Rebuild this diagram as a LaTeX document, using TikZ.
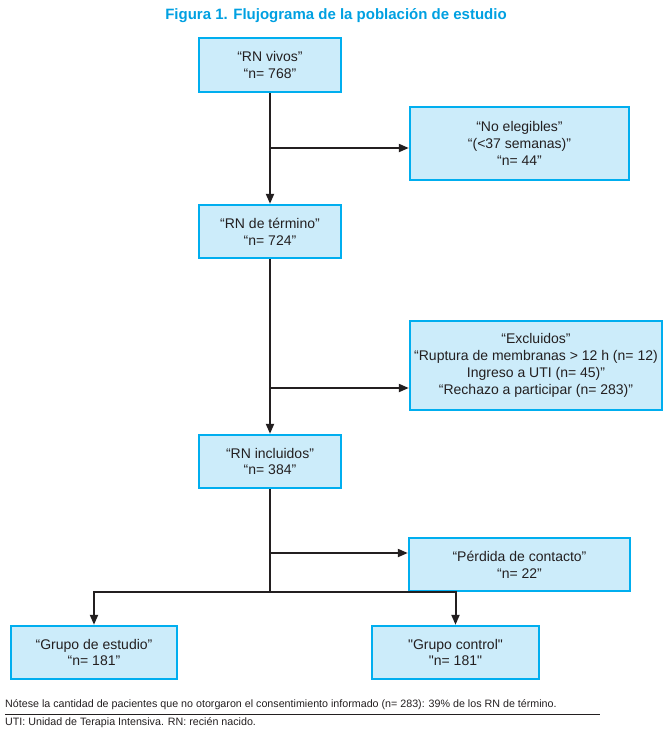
\documentclass[tikz,border=0pt]{standalone}
\usepackage{fontspec}
\setmainfont{Liberation Sans}[Ligatures=TeXOff]
\usetikzlibrary{arrows.meta}
\definecolor{boxborder}{RGB}{0,174,239}
\definecolor{boxfill}{RGB}{204,236,250}
\definecolor{ink}{RGB}{35,31,32}
\definecolor{titleblue}{RGB}{0,160,225}
\tikzset{
  box/.style={draw=boxborder, fill=boxfill, line width=2.4pt, inner sep=0pt, align=center,
    font=\fontsize{14}{16.8}\selectfont, text=ink},
  arr/.style={draw=ink, line width=2pt, -{Triangle[length=10pt,width=8pt]}},
  ln/.style={draw=ink, line width=2pt},
}
\begin{document}
\begin{tikzpicture}[x=1pt,y=-1pt]
\useasboundingbox (0,0) rectangle (670,740);
\node[font=\bfseries\fontsize{15}{17}\selectfont, text=titleblue] (title) at (336,16) {Figura 1. Flujograma de la población de estudio};
\node[box, minimum width=142pt, minimum height=54pt] (vivos) at (270,65) {“RN vivos”\\“n= 768”};
\node[box, minimum width=219pt, minimum height=73pt] (noeleg) at (519.5,143.5) {“No elegibles”\\“(<37 semanas)”\\“n= 44”};
\node[box, minimum width=142pt, minimum height=53pt] (termino) at (270,231.5) {“RN de término”\\“n= 724”};
\node[box, minimum width=252pt, minimum height=89pt] (excl) at (536,365.5) {“Excluidos”\\“Ruptura de membranas > 12 h (n= 12)\\Ingreso a UTI (n= 45)”\\“Rechazo a participar (n= 283)”};
\node[box, minimum width=142pt, minimum height=53pt] (incl) at (270,461.5) {“RN incluidos”\\“n= 384”};
\node[box, minimum width=221pt, minimum height=53pt] (perdida) at (519.5,564.5) {“Pérdida de contacto”\\“n= 22”};
\node[box, minimum width=166pt, minimum height=53pt] (estudio) at (94,652.5) {“Grupo de estudio”\\“n= 181”};
\node[box, minimum width=167pt, minimum height=53pt] (control) at (455.5,652.5) {"Grupo control"\\"n= 181"};
\coordinate (j1) at (270,148);
\coordinate (j2) at (270,388);
\coordinate (j3) at (270,553);
\coordinate (j4) at (270,592);
\draw[arr] (vivos) -- (termino);
\draw[arr] (j1) -- (j1 -| noeleg.west);
\draw[arr] (termino) -- (incl);
\draw[arr] (j2) -- (j2 -| excl.west);
\draw[ln] (incl.south) -- (j4);
\draw[arr] (j3) -- (j3 -| perdida.west);
\draw[arr] (j4) -| (estudio.north);
\draw[arr] (j4) -| (control.north);
\node[anchor=west, font=\fontsize{10.7}{12}\selectfont, text=ink, inner sep=0pt] (nota) at (5,705) {Nótese la cantidad de pacientes que no otorgaron el consentimiento informado (n= 283): 39\% de los RN de término.};
\coordinate (r1) at (5,714);
\coordinate (r2) at (600,714);
\draw[draw=ink, line width=0.8pt] (r1) -- (r2);
\node[anchor=west, font=\fontsize{10.7}{12}\selectfont, text=ink, inner sep=0pt] (uti) at (5,723) {UTI: Unidad de Terapia Intensiva. RN: recién nacido.};
\end{tikzpicture}
\end{document}
